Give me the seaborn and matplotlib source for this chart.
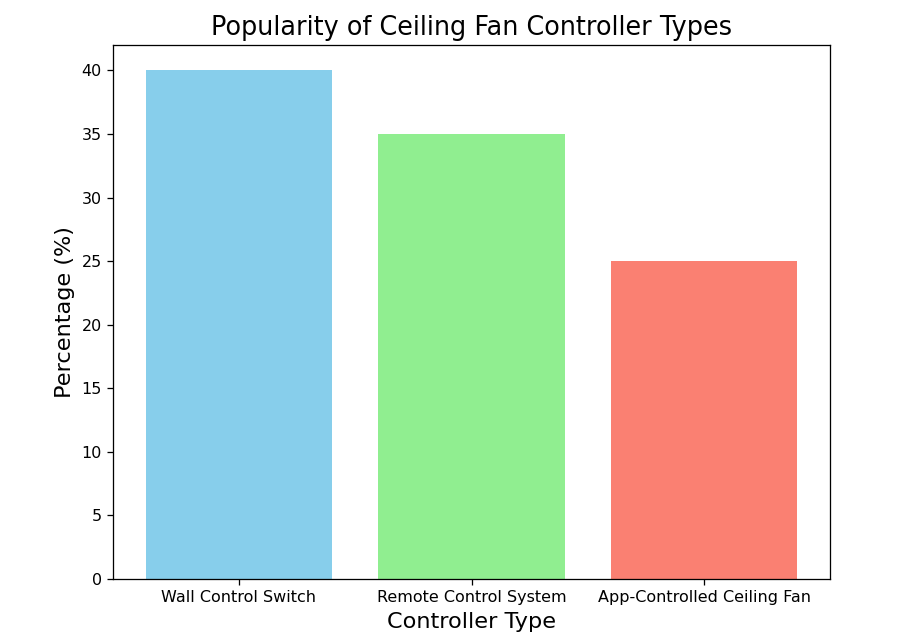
import matplotlib
matplotlib.use("Agg")
import matplotlib.pyplot as plt
import seaborn as sns
import pandas as pd

categories = ["Wall Control Switch", "Remote Control System", "App-Controlled Ceiling Fan"]
percentages = [40, 35, 25]
colors = ["skyblue", "lightgreen", "salmon"]

df = pd.DataFrame({"type": categories, "pct": percentages})

fig = plt.figure(figsize=(8, 643 / 115), dpi=115)
ax = fig.add_axes([0.123, 0.0995, 0.779, 0.8305])
sns.barplot(data=df, x="type", y="pct", hue="type", palette=colors,
            saturation=1, width=0.8, legend=False, ax=ax)
ax.set_title("Popularity of Ceiling Fan Controller Types", fontsize=16)
ax.set_xlabel("Controller Type", fontsize=14)
ax.set_ylabel("Percentage (%)", fontsize=14)
ax.set_xlim(-0.54, 2.54)
ax.set_ylim(0, 42)
fig.savefig("out.png", dpi=115)
